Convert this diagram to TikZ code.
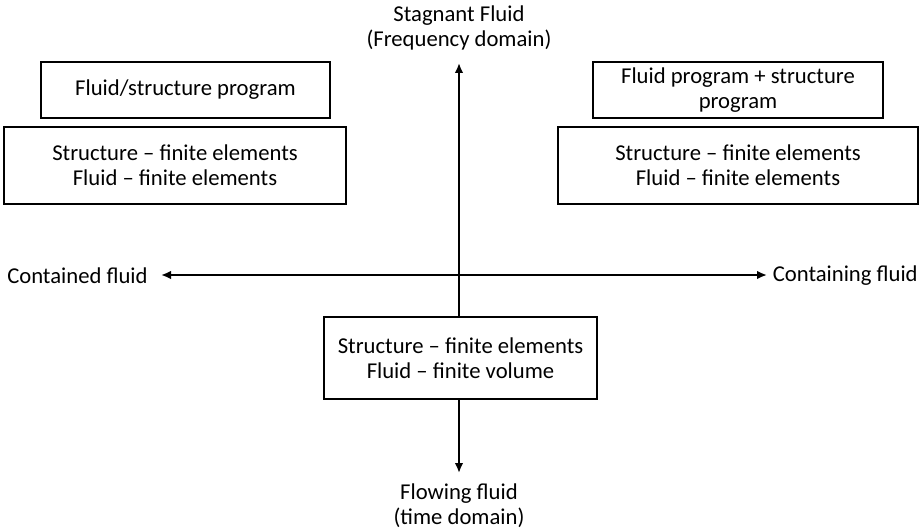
\documentclass[tikz,border=0pt]{standalone}
\usepackage{fontspec}
\setmainfont{Carlito}
\usetikzlibrary{arrows.meta}
\begin{document}
\begin{tikzpicture}[x=0.75pt,y=-0.75pt,
  box/.style={draw,line width=0.8pt,fill=white,align=center,inner sep=0pt},
  lbl/.style={align=center,inner sep=0pt},
  axis/.style={line width=1.7pt,-{Latex[length=7.5pt,width=6.5pt]}}]
\useasboundingbox (0,0) rectangle (920,531);
\fontsize{17}{18.8}\selectfont
% axis labels
\node[lbl] (top) at (459,28) {Stagnant Fluid\\(Frequency domain)};
\node[lbl] (bottom) at (459,506) {Flowing fluid\\(time domain)};
\node[lbl,anchor=west] (left) at (7,276) {Contained fluid};
\node[lbl,anchor=east] (right) at (918,276) {Containing fluid};
\coordinate (origin) at (459,275);
\coordinate (utip) at (459,63);
\coordinate (dtip) at (459,473);
\coordinate (ltip) at (161,275);
\coordinate (rtip) at (767,275);
% axes
\draw[axis] (origin) -- (utip);
\draw[axis] (origin) -- (dtip);
\draw[axis] (origin) -- (ltip);
\draw[axis] (origin) -- (rtip);
% boxes
\node[box,minimum width=216.75pt,minimum height=42pt] (lprog) at (185.5,90) {Fluid/structure program};
\node[box,minimum width=256.5pt,minimum height=57.75pt] (lmeth) at (175,165.5) {Structure -- finite elements\\Fluid -- finite elements};
\node[box,minimum width=217.5pt,minimum height=42pt] (rprog) at (738,90) {Fluid program + structure\\program};
\node[box,minimum width=270pt,minimum height=57.75pt] (rmeth) at (738,165.5) {Structure -- finite elements\\Fluid -- finite elements};
\node[box,minimum width=204.75pt,minimum height=61.5pt] (bmeth) at (460.5,358) {Structure -- finite elements\\Fluid -- finite volume};
\end{tikzpicture}
\end{document}
